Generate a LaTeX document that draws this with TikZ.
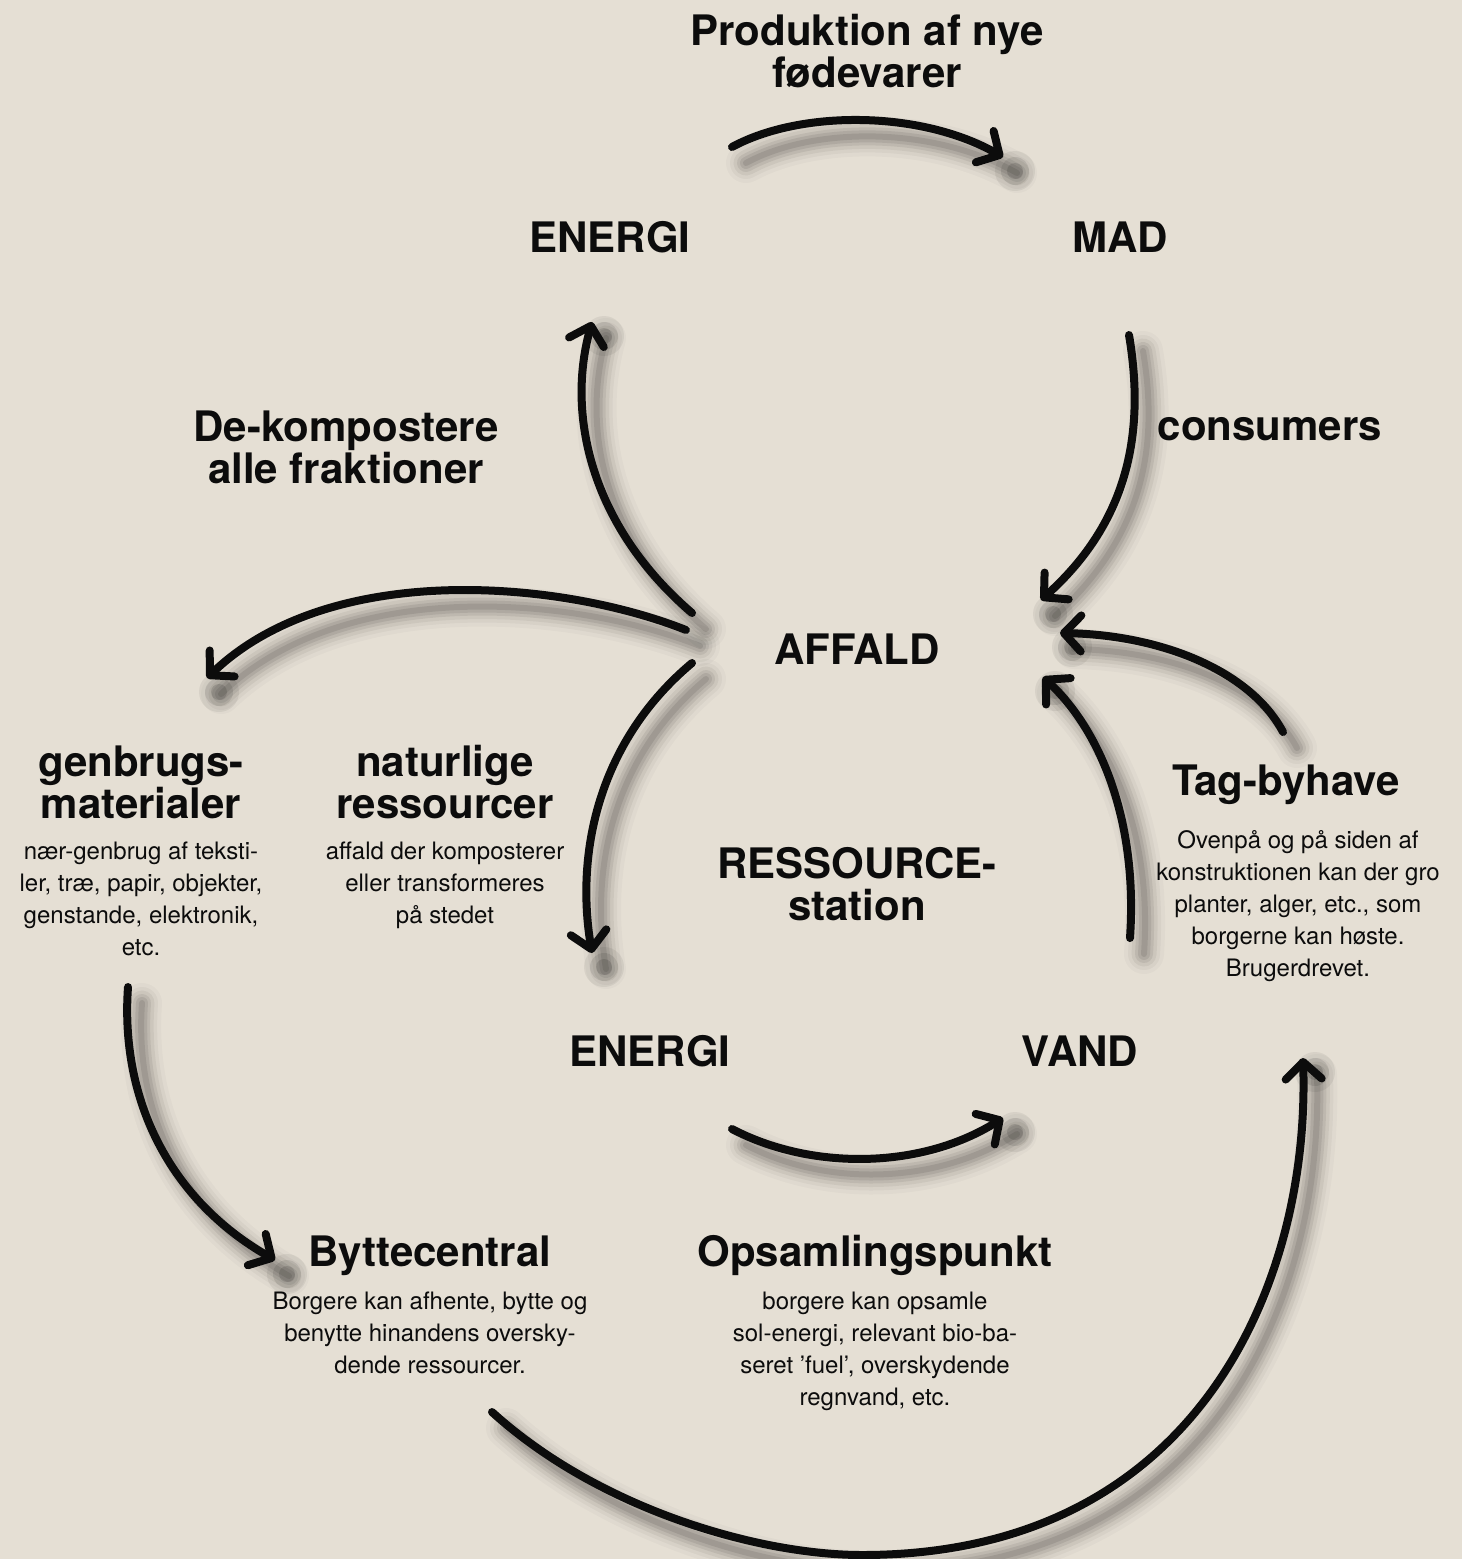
\documentclass[tikz,border=0pt]{standalone}
\usepackage{fontspec}
\setmainfont{TeX Gyre Heros}
\usetikzlibrary{arrows.meta}
\definecolor{bg}{RGB}{229,223,212}
\definecolor{ink}{RGB}{12,12,12}
\tikzset{
  head/.style={font=\fontsize{42}{42}\selectfont\bfseries, text=ink, inner sep=0pt, align=center, anchor=base},
  body/.style={font=\fontsize{24}{32}\selectfont, text=ink, inner sep=0pt, align=center, anchor=base},
  arr/.style={line width=8pt, line cap=round, draw=ink, -{Straight Barb[length=17pt,width=36pt,round]}},
  shd/.style={line cap=round, line join=round, draw=black, transform canvas={shift={(14pt,-16pt)}}},
  blob/.style={fill=black, draw=none, transform canvas={shift={(12pt,-14pt)}}},
}
\newcommand\carrow[2]{%
  \draw[shd,line width=40pt,opacity=0.025] #1;
  \draw[shd,line width=32pt,opacity=0.035] #1;
  \draw[shd,line width=25pt,opacity=0.05] #1;
  \draw[shd,line width=18pt,opacity=0.065] #1;
  \draw[shd,line width=12pt,opacity=0.08] #1;
  \draw[shd,line width=6pt,opacity=0.09] #1;
  \fill[blob,opacity=0.06] (#2) circle (20pt);
  \fill[blob,opacity=0.09] (#2) circle (14pt);
  \fill[blob,opacity=0.12] (#2) circle (8pt);
  \draw[arr] #1;}
\begin{document}
\begin{tikzpicture}[x=1pt,y=-1pt]
\fill[bg] (0,0) rectangle (1462,1559);
\useasboundingbox (0,0) rectangle (1462,1559);

% texts (anchor = baseline of last line)
\node[head] (prod) at (867,87) {Produktion af nye\\fødevarer};
\node[head] (energiT) at (610,252) {ENERGI};
\node[head] (mad) at (1120,252) {MAD};
\node[head] (dekomp) at (346,483) {De-kompostere\\alle fraktioner};
\node[head] (cons) at (1270,440) {consumers};
\node[head] (affald) at (857,664) {AFFALD};
\node[head] (genb) at (141,818) {genbrugs-\\materialer};
\node[body] (genbtxt) at (141,955) {nær-genbrug af teksti-\\ler, træ, papir, objekter,\\genstande, elektronik,\\etc.};
\node[head] (nat) at (445,818) {naturlige\\ressourcer};
\node[body] (nattxt) at (445,923) {affald der komposterer\\eller transformeres\\på stedet};
\node[head] (ress) at (857,920) {RESSOURCE-\\station};
\node[head] (tag) at (1286,795) {Tag-byhave};
\node[body] (tagtxt) at (1298,976) {Ovenpå og på siden af\\konstruktionen kan der gro\\planter, alger, etc., som\\borgerne kan høste.\\Brugerdrevet.};
\node[head] (energiB) at (650,1066) {ENERGI};
\node[head] (vand) at (1080,1066) {VAND};
\node[head] (bytte) at (430,1266) {Byttecentral};
\node[body] (byttetxt) at (430,1373) {Borgere kan afhente, bytte og\\benytte hinandens oversky-\\dende ressourcer.};
\node[head] (opsam) at (875,1266) {Opsamlingspunkt};
\node[body] (opsamtxt) at (875,1405) {borgere kan opsamle\\sol-energi, relevant bio-ba-\\seret ’fuel’, overskydende\\regnvand, etc.};

% connector end points
\coordinate (a1s) at (732,147);  \coordinate (a1e) at (1003,157);
\coordinate (a2s) at (1129,335); \coordinate (a2e) at (1041,600);
\coordinate (a3s) at (1283,732); \coordinate (a3e) at (1060,633);
\coordinate (a4s) at (1130,938); \coordinate (a4e) at (1043,677);
\coordinate (a5s) at (692,613);  \coordinate (a5e) at (592,322);
\coordinate (a6s) at (686,630);  \coordinate (a6e) at (207,678);
\coordinate (a7s) at (692,663);  \coordinate (a7e) at (592,953);
\coordinate (a8s) at (128,987);  \coordinate (a8e) at (275,1260);
\coordinate (a9s) at (732,1129); \coordinate (a9e) at (1003,1118);
\coordinate (a10s) at (492,1412); \coordinate (a10m) at (862,1555); \coordinate (a10e) at (1303,1058);

% connectors
\carrow{(a1s) .. controls (800,110) and (920,110) .. (a1e)}{a1e}
\carrow{(a2s) .. controls (1145,430) and (1130,520) .. (a2e)}{a2e}
\carrow{(a3s) .. controls (1250,670) and (1160,635) .. (a3e)}{a3e}
\carrow{(a4s) .. controls (1138,820) and (1100,730) .. (a4e)}{a4e}
\carrow{(a5s) .. controls (595,530) and (565,420) .. (a5e)}{a5e}
\carrow{(a6s) .. controls (560,580) and (330,560) .. (a6e)}{a6e}
\carrow{(a7s) .. controls (600,740) and (575,850) .. (a7e)}{a7e}
\carrow{(a8s) .. controls (120,1100) and (170,1200) .. (a8e)}{a8e}
\carrow{(a9s) .. controls (810,1170) and (920,1170) .. (a9e)}{a9e}
\carrow{(a10s) .. controls (600,1510) and (760,1555) .. (a10m) .. controls (1200,1555) and (1310,1280) .. (a10e)}{a10e}
\end{tikzpicture}
\end{document}
